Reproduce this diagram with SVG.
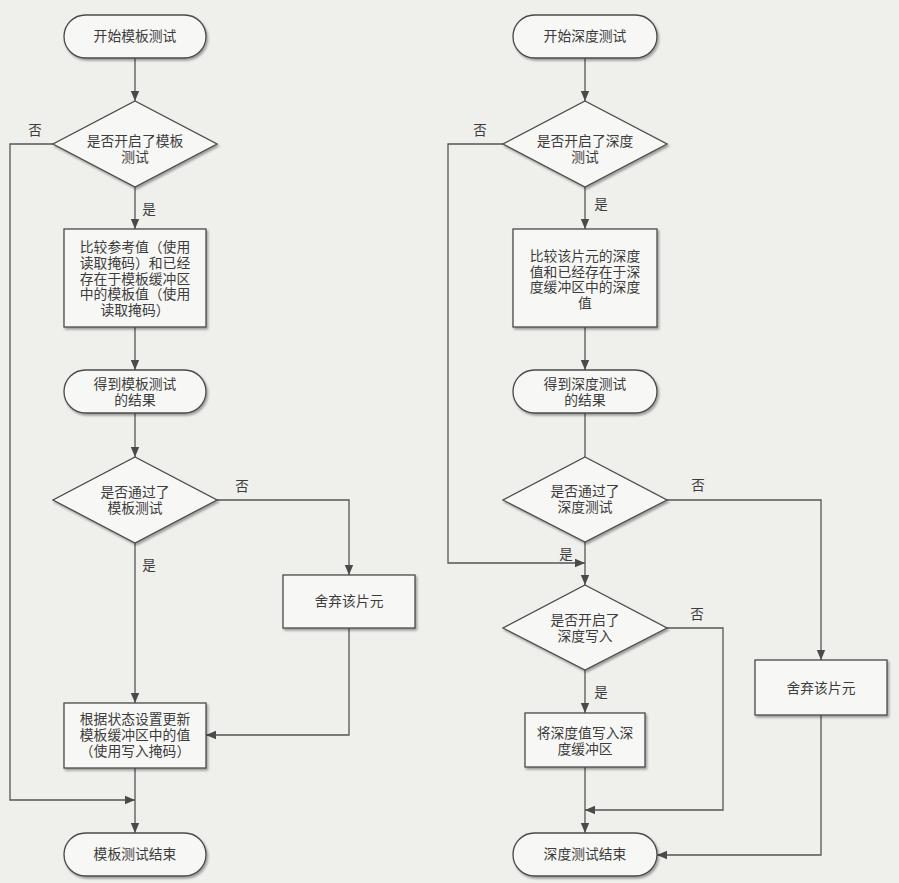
<svg xmlns="http://www.w3.org/2000/svg" width="899" height="883" viewBox="0 0 899 883">
<style>
.bg{fill:#efefec}
.node{fill:#f7f7f5;stroke:#4a4a4a;stroke-width:1.3;filter:url(#sh)}
.t{font-family:"Liberation Sans","Noto Sans CJK SC",sans-serif;font-size:13.8px;fill:#3c3c3c;text-anchor:middle;dominant-baseline:central}
.lbl{font-family:"Liberation Sans","Noto Sans CJK SC",sans-serif;font-size:13.5px;fill:#3c3c3c;text-anchor:middle;dominant-baseline:central}
.c{fill:none;stroke:#555;stroke-width:1.3}
.a{marker-end:url(#ah)}
</style>
<defs>
<marker id="ah" viewBox="0 0 10 10" refX="10" refY="5" markerWidth="10" markerHeight="10" markerUnits="userSpaceOnUse" orient="auto">
<path d="M0,0.8 L10,5 L0,9.2 Z" fill="#4a4a4a"/>
</marker>
<filter id="sh" x="-10%" y="-10%" width="125%" height="130%">
<feDropShadow dx="1.5" dy="2" stdDeviation="1.2" flood-color="#000" flood-opacity="0.35"/>
</filter>
</defs>
<rect class="bg" x="0" y="0" width="899" height="883"/>

<g id="connectors">
<path class="c a" d="M135,58 V101"/>
<path class="c a" d="M53,144 H10 V800 H135"/>
<path class="c a" d="M135,187 V229"/>
<path class="c a" d="M135,327 V370"/>
<path class="c a" d="M135,413 V457"/>
<path class="c a" d="M217,500 H349 V575"/>
<path class="c a" d="M349,628 V735 H206"/>
<path class="c a" d="M135,543 V703"/>
<path class="c a" d="M135,768 V833"/>

<path class="c a" d="M585,58 V101"/>
<path class="c a" d="M503,144 H448 V563 H585"/>
<path class="c a" d="M585,187 V229"/>
<path class="c a" d="M585,327 V370"/>
<path class="c" d="M585,413 V457"/>
<path class="c a" d="M667,500 H821 V660"/>
<path class="c a" d="M585,542 V585"/>
<path class="c a" d="M667,628 H723 V810 H585"/>
<path class="c a" d="M585,670 V713"/>
<path class="c a" d="M821,715 V855 H657"/>
<path class="c a" d="M585,767 V833"/>

<text class="lbl" x="35" y="130">否</text>
<text class="lbl" x="149" y="209">是</text>
<text class="lbl" x="242" y="486">否</text>
<text class="lbl" x="149" y="565">是</text>
<text class="lbl" x="480" y="130">否</text>
<text class="lbl" x="601" y="204">是</text>
<text class="lbl" x="698" y="485">否</text>
<text class="lbl" x="566" y="554">是</text>
<text class="lbl" x="697" y="614">否</text>
<text class="lbl" x="601" y="692">是</text>
</g>

<g id="start-stencil">
<rect class="node" x="64" y="15" width="142" height="43" rx="21.5"/>
<text class="t" x="135" y="36">开始模板测试</text>
</g>
<g id="dec-stencil-enabled">
<polygon class="node" points="135,101 217,144 135,187 53,144"/>
<text class="t" x="135" y="141">是否开启了模板<tspan x="135" dy="15.5">测试</tspan></text>
</g>
<g id="compare-stencil">
<rect class="node" x="64" y="229" width="142" height="98"/>
<text class="t" x="135" y="247.5">比较参考值（使用<tspan x="135" dy="15.5">读取掩码）和已经</tspan><tspan x="135" dy="15.5">存在于模板缓冲区</tspan><tspan x="135" dy="15.5">中的模板值（使用</tspan><tspan x="135" dy="15.5">读取掩码）</tspan></text>
</g>
<g id="result-stencil">
<rect class="node" x="64" y="370" width="142" height="43" rx="21.5"/>
<text class="t" x="135" y="384.25">得到模板测试<tspan x="135" dy="15.5">的结果</tspan></text>
</g>
<g id="dec-stencil-pass">
<polygon class="node" points="135,457 217,500 135,543 53,500"/>
<text class="t" x="135" y="492.25">是否通过了<tspan x="135" dy="15.5">模板测试</tspan></text>
</g>
<g id="discard-left">
<rect class="node" x="283" y="575" width="132" height="53"/>
<text class="t" x="349" y="601">舍弃该片元</text>
</g>
<g id="update-stencil">
<rect class="node" x="64" y="703" width="142" height="65"/>
<text class="t" x="135" y="719">根据状态设置更新<tspan x="135" dy="16">模板缓冲区中的值</tspan><tspan x="135" dy="16">（使用写入掩码）</tspan></text>
</g>
<g id="end-stencil">
<rect class="node" x="64" y="833" width="142" height="43" rx="21.5"/>
<text class="t" x="135" y="854">模板测试结束</text>
</g>

<g id="start-depth">
<rect class="node" x="513" y="15" width="144" height="43" rx="21.5"/>
<text class="t" x="585" y="36">开始深度测试</text>
</g>
<g id="dec-depth-enabled">
<polygon class="node" points="585,101 667,144 585,187 503,144"/>
<text class="t" x="585" y="141">是否开启了深度<tspan x="585" dy="15.5">测试</tspan></text>
</g>
<g id="compare-depth">
<rect class="node" x="513" y="229" width="144" height="98"/>
<text class="t" x="585" y="256.25">比较该片元的深度<tspan x="585" dy="15.5">值和已经存在于深</tspan><tspan x="585" dy="15.5">度缓冲区中的深度</tspan><tspan x="585" dy="15.5">值</tspan></text>
</g>
<g id="result-depth">
<rect class="node" x="513" y="370" width="144" height="43" rx="21.5"/>
<text class="t" x="585" y="384.25">得到深度测试<tspan x="585" dy="15.5">的结果</tspan></text>
</g>
<g id="dec-depth-pass">
<polygon class="node" points="585,457 667,500 585,542 503,500"/>
<text class="t" x="585" y="491.5">是否通过了<tspan x="585" dy="15.5">深度测试</tspan></text>
</g>
<g id="dec-depth-write">
<polygon class="node" points="585,585 667,628 585,670 503,628"/>
<text class="t" x="585" y="620.25">是否开启了<tspan x="585" dy="15.5">深度写入</tspan></text>
</g>
<g id="write-depth">
<rect class="node" x="525" y="713" width="120" height="54"/>
<text class="t" x="585" y="733">将深度值写入深<tspan x="585" dy="15.5">度缓冲区</tspan></text>
</g>
<g id="discard-right">
<rect class="node" x="755" y="660" width="132" height="55"/>
<text class="t" x="821" y="688">舍弃该片元</text>
</g>
<g id="end-depth">
<rect class="node" x="513" y="833" width="144" height="43" rx="21.5"/>
<text class="t" x="585" y="854">深度测试结束</text>
</g>
</svg>
